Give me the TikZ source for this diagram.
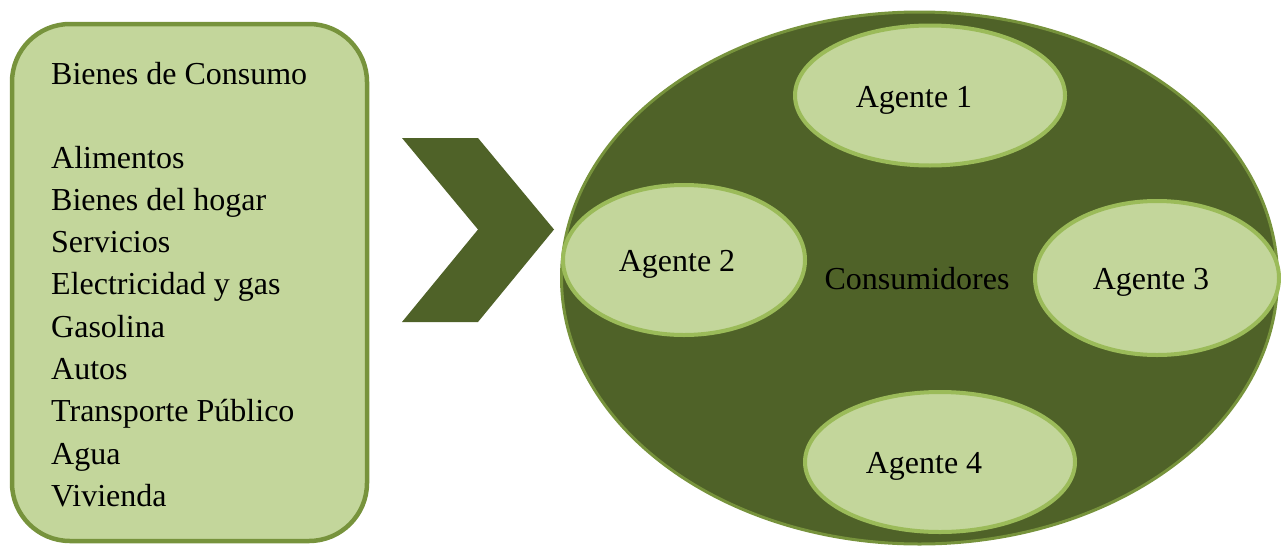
\documentclass[tikz,border=0pt]{standalone}
\usepackage{fontspec}
\setmainfont{Liberation Serif}
\usetikzlibrary{shapes.geometric}
\definecolor{boxfill}{HTML}{C3D69B}
\definecolor{boxline}{HTML}{77933C}
\definecolor{dark}{HTML}{4F6228}
\definecolor{agline}{HTML}{9BBB59}
\tikzset{
  txt/.style={inner sep=0pt, font=\fontsize{32}{42.3}\selectfont, text=black},
  agent/.style={ellipse, draw=agline, line width=4pt, fill=boxfill, inner sep=0pt},
}
\begin{document}
\begin{tikzpicture}[x=1pt,y=-1pt]
\useasboundingbox (0,0) rectangle (1281,546);
% left box
\draw[boxline, fill=boxfill, line width=4.5pt, rounded corners=58pt] (12,24) rectangle (367,541);
\node[txt, anchor=base west] (h) at (51,84) {Bienes de Consumo};
\foreach \t [count=\i] in {Alimentos,Bienes del hogar,Servicios,Electricidad y gas,Gasolina,Autos,Transporte Público,Agua,Vivienda}
  \node[txt, anchor=base west] (l\i) at (51,{168+(\i-1)*42.3}) {\t};
% chevron
\fill[dark] (402,138) coordinate (c1) -- (478,138) -- (554,229.5) -- (478,322) -- (402,322) -- (478,229.5) -- cycle;
% big ellipse
\node[ellipse, draw=boxline, line width=3pt, fill=dark, minimum width=716pt, minimum height=532pt, inner sep=0pt] (big) at (919.5,278) {};
\node[txt, anchor=base] (cons) at (917,289) {Consumidores};
% agents
\node[agent, minimum width=270pt, minimum height=140pt] (a1) at (930,95.5) {};
\node[agent, minimum width=242pt, minimum height=150pt] (a2) at (684,260) {};
\node[agent, minimum width=244pt, minimum height=154pt] (a3) at (1157,278) {};
\node[agent, minimum width=270pt, minimum height=140pt] (a4) at (940,462) {};
\node[txt, anchor=base] (t1) at (914,107) {Agente 1};
\node[txt, anchor=base] (t2) at (677,271) {Agente 2};
\node[txt, anchor=base] (t3) at (1151,289) {Agente 3};
\node[txt, anchor=base] (t4) at (924,473) {Agente 4};
\end{tikzpicture}
\end{document}
